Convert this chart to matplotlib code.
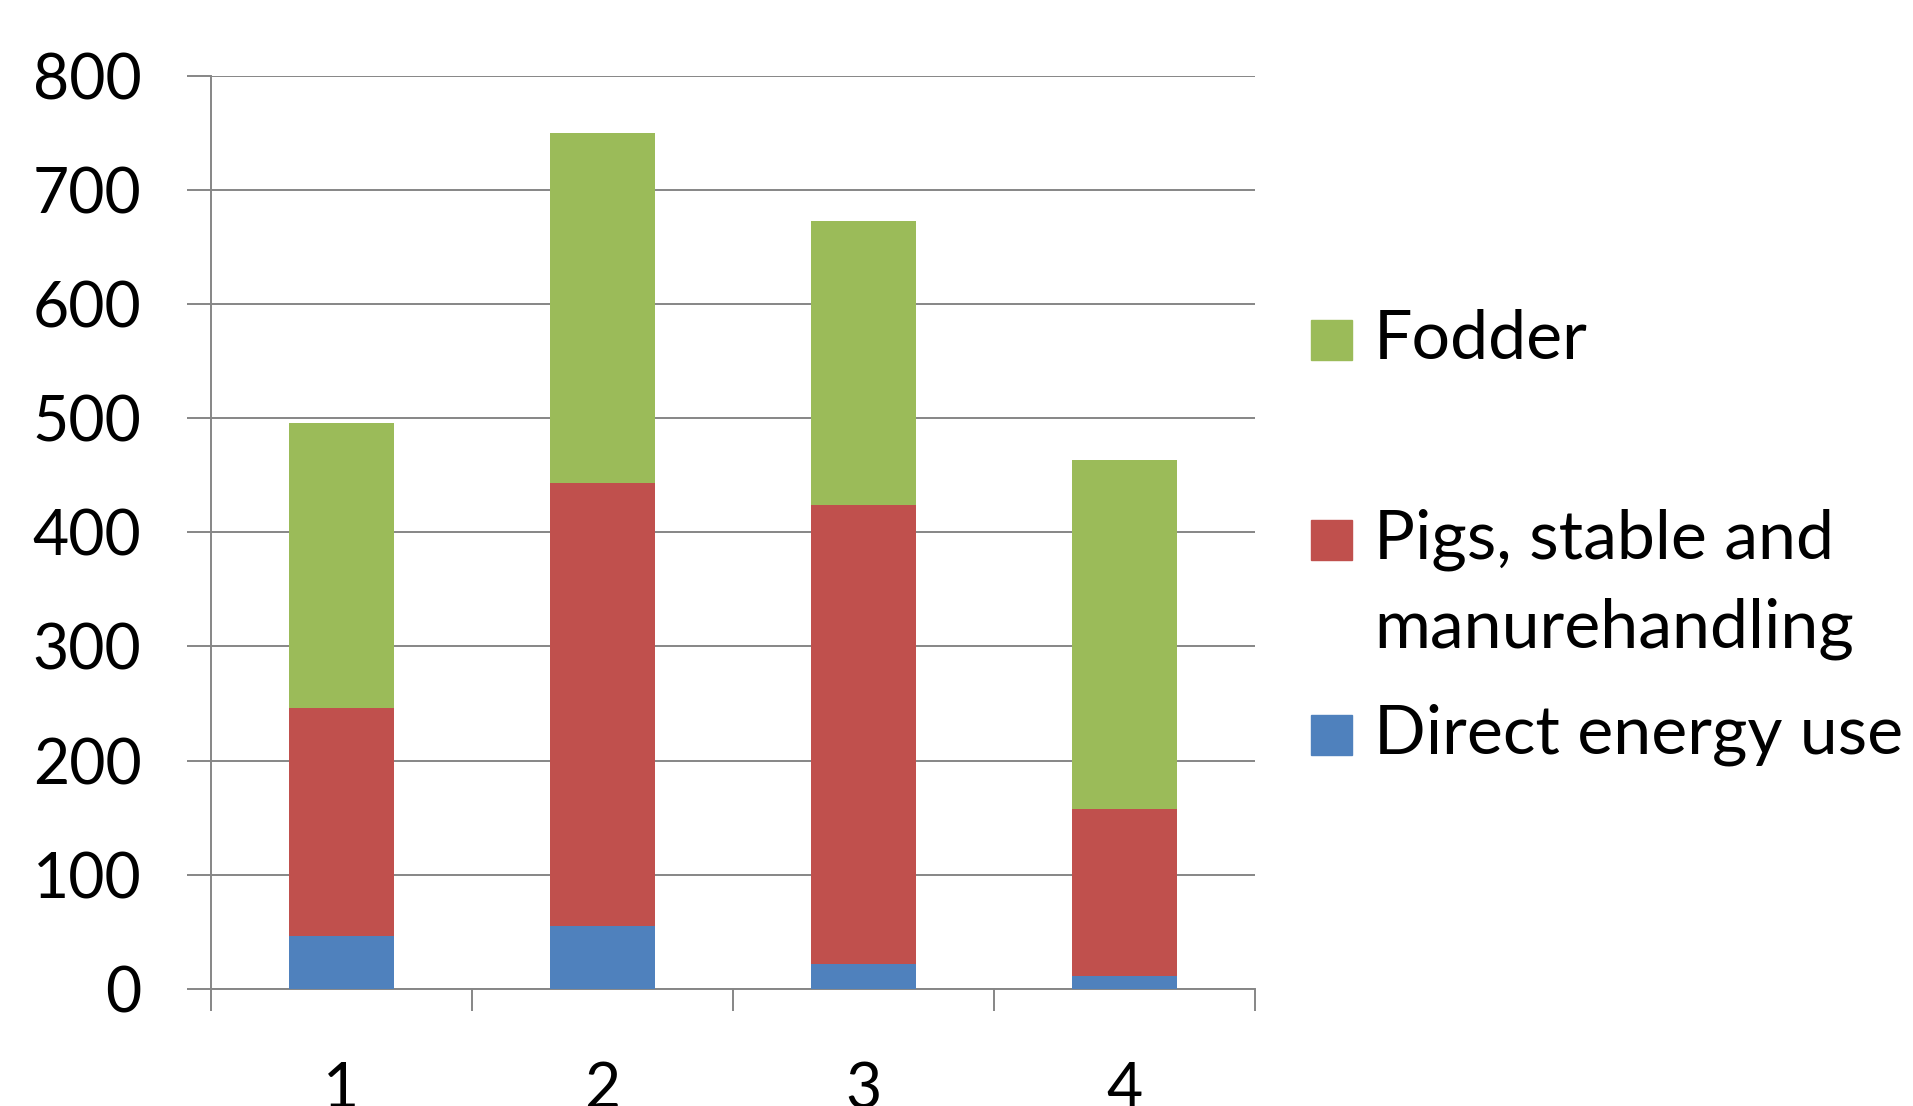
import matplotlib
matplotlib.use("Agg")
import matplotlib.pyplot as plt
from matplotlib.patches import Rectangle
import numpy as np

categories = ["1", "2", "3", "4"]
direct_energy = [46, 55, 22, 11]
pigs_stable = [200, 388, 402, 147]
fodder = [250, 307, 249, 305]
series_names = ["Direct energy use", "Pigs, stable and\nmanurehandling", "Fodder"]
colors = ["#4F81BD", "#C0504D", "#9BBB59"]
yticks = [0, 100, 200, 300, 400, 500, 600, 700, 800]

plt.rcParams['font.family'] = ['Lato', 'DejaVu Sans']
FS = 45
LFS = 49
W, H = 1913, 1106
fig = plt.figure(figsize=(W / 100, H / 100), dpi=100)
ax = fig.add_axes([211 / W, 1 - 989 / H, (1255 - 211) / W, (989 - 75.6) / H])

x = np.arange(len(categories))
bottom = np.zeros(len(categories))
for vals, c in zip([direct_energy, pigs_stable, fodder], colors):
    ax.bar(x, vals, width=0.4, bottom=bottom, color=c, zorder=3)
    bottom += np.array(vals)

ax.set_xlim(-0.5, len(categories) - 0.5)
ax.set_ylim(0, 800)
ax.set_yticks(yticks)
ax.set_yticklabels([str(v) for v in yticks], fontsize=FS)
ax.grid(axis='y', color='#868686', linewidth=1.4, zorder=0)
ax.tick_params(axis='y', length=17, width=1.4, color='#868686', pad=33, direction='out')

ax.set_xticks(x)
ax.set_xticklabels(categories, fontsize=FS)
ax.set_xticks(np.arange(-0.5, len(categories)), minor=True)
ax.tick_params(axis='x', which='major', length=0, pad=52)
ax.tick_params(axis='x', which='minor', length=16, width=1.4, color='#868686', direction='out')

for s in ['top', 'right']:
    ax.spines[s].set_visible(False)
for s in ['left', 'bottom']:
    ax.spines[s].set_color('#868686')
    ax.spines[s].set_linewidth(1.4)

# manual legend (Excel-like layout)
legend_rows = [(2, 340), (1, 540), (0, 735)]
for idx, ycen in legend_rows:
    fig.patches.append(Rectangle((1311 / W, 1 - (ycen + 20) / H), 41 / W, 40 / H,
                                 transform=fig.transFigure, color=colors[idx]))
    lines = series_names[idx].split('\n')
    for k, line in enumerate(lines):
        fig.text(1374 / W, 1 - (ycen + 89 * k) / H, line, fontsize=LFS,
                 va='center', ha='left')

fig.savefig("out.png", dpi=100)
